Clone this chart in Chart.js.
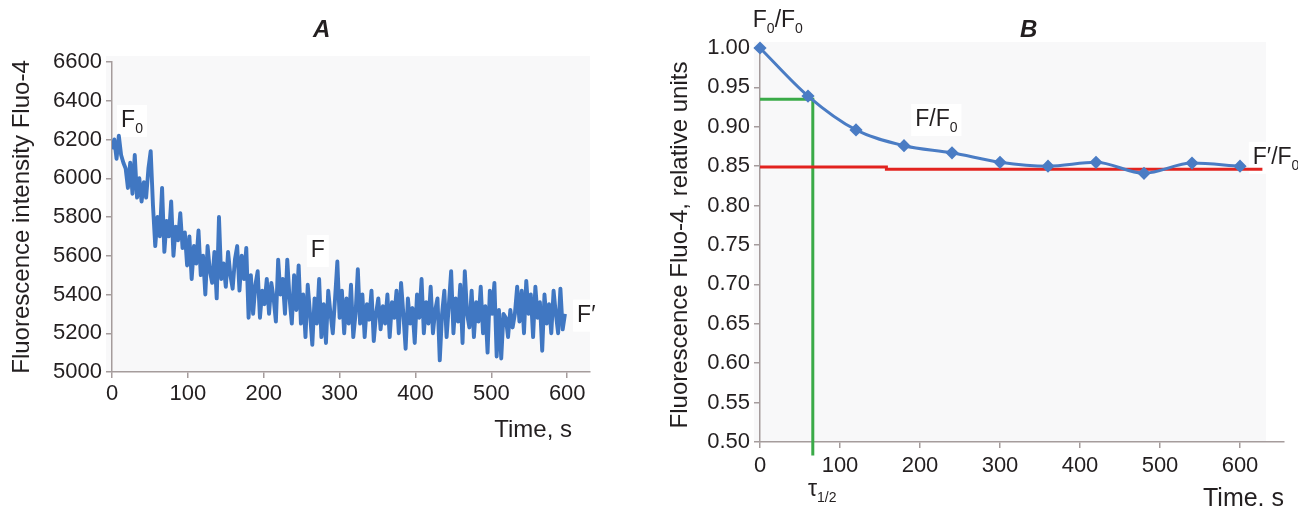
<!DOCTYPE html>
<html>
<head>
<meta charset="utf-8">
<script src="https://cdn.jsdelivr.net/npm/chart.js@4.4.1/dist/chart.umd.min.js"></script>
<style>
  html, body { margin: 0; padding: 0; background: #fff; }
  #wrapA { position: absolute; left: 0; top: 0; width: 650px; height: 509px; }
  #wrapB { position: absolute; left: 650px; top: 0; width: 648px; height: 509px; }
</style>
</head>
<body>
<div id="wrapA"><canvas id="chartA" width="650" height="509"></canvas></div>
<div id="wrapB"><canvas id="chartB" width="648" height="509"></canvas></div>
<script>
// PANEL A - raw Fluo-4 trace, one reading every 3 s
var sampleStepA = 3;
var intensityA = [
  6150, 6200, 6100, 6220, 6120, 6080, 6050, 5950, 6080, 5920,
  6120, 5900, 6000, 5880, 5980, 5900, 6050, 6140, 5860, 5650,
  5800, 5700, 5950, 5620, 5780, 5700, 5880, 5600, 5750, 5680,
  5820, 5640, 5720, 5550, 5700, 5480, 5650, 5560, 5730, 5500,
  5600, 5400, 5650, 5520, 5460, 5620, 5380, 5800, 5480, 5560,
  5440, 5620, 5500, 5430, 5580, 5650, 5420, 5600, 5480, 5640,
  5280, 5500, 5300, 5450, 5520, 5280, 5420, 5350, 5480, 5300,
  5460, 5380, 5260, 5580, 5400, 5480, 5300, 5580, 5380, 5250,
  5500, 5320, 5550, 5250, 5400, 5180, 5450, 5300, 5140, 5380,
  5250, 5480, 5180, 5350, 5150, 5420, 5300, 5200, 5380, 5570,
  5280, 5420, 5200, 5380, 5250, 5450, 5180, 5300, 5530, 5250,
  5400, 5180, 5350, 5270, 5420, 5160, 5300, 5380, 5220, 5340,
  5250, 5400, 5180, 5360, 5280, 5420, 5200, 5460, 5300, 5120,
  5380, 5250, 5330, 5150, 5400, 5280, 5480, 5200, 5360, 5250,
  5440, 5200, 5320, 5380, 5060, 5300, 5420, 5180, 5350, 5520,
  5200, 5380, 5260, 5450, 5150, 5520, 5300, 5230, 5420, 5180,
  5360, 5260, 5440, 5200, 5340, 5100, 5420, 5300, 5460, 5080,
  5320, 5070, 5300, 5280, 5180, 5320, 5230, 5300, 5440, 5260,
  5420, 5200, 5470, 5300, 5400, 5180, 5440, 5280, 5360, 5110,
  5400, 5250, 5350, 5200, 5420, 5300, 5200, 5430, 5220, 5300
];

// PANEL B - normalised fluorescence F/F0
var timeB = [0, 60, 120, 180, 240, 300, 360, 420, 480, 540, 600];
var ratioB = [1.00, 0.939, 0.896, 0.876, 0.867, 0.855, 0.850, 0.855, 0.841, 0.854, 0.850];
var plateauTimes = [0, 158, 158, 628];
var plateauLevels = [0.849, 0.849, 0.846, 0.846];
var halfLevel = 0.935;
var halfTime = 66;

var FONT = '"Liberation Sans", Arial, Helvetica, sans-serif';
var INK = '#231f20';
var AXIS = '#a59c9c';
var BLUE = '#4077c2';
var LABEL_SIZE = 23;

Chart.defaults.font.family = FONT;
Chart.defaults.color = INK;

// draw text with subscript pieces: parts = [[text, isSub], ...]
function drawParts(ctx, parts, x, y, size) {
  var cx = x;
  parts.forEach(function (p) {
    var fs = p[1] ? Math.round(size * 0.62) : size;
    ctx.font = fs + 'px ' + FONT;
    ctx.fillText(p[0], cx, p[1] ? y + size * 0.27 : y);
    cx += ctx.measureText(p[0]).width;
  });
}

function partsWidth(ctx, parts, size) {
  var w = 0;
  parts.forEach(function (p) {
    ctx.font = (p[1] ? Math.round(size * 0.62) : size) + 'px ' + FONT;
    w += ctx.measureText(p[0]).width;
  });
  return w;
}

// plot background, panel letter, x title and point labels
function panelPlugin(cfg) {
  return {
    id: 'panel' + cfg.letter,
    beforeDraw: function (chart) {
      var a = chart.chartArea, ctx = chart.ctx;
      ctx.save();
      ctx.fillStyle = '#f8f8f9';
      ctx.fillRect(a.left - 6, a.top - 6, a.right - a.left + 6 + cfg.bgRight, a.bottom - a.top + 6);
      ctx.restore();
    },
    beforeDatasetsDraw: function (chart) {
      var ctx = chart.ctx, sx = chart.scales.x, sy = chart.scales.y, a = chart.chartArea;
      ctx.save();
      ctx.fillStyle = INK;
      ctx.textBaseline = 'alphabetic';
      ctx.textAlign = 'left';
      ctx.font = 'italic bold 24px ' + FONT;
      ctx.fillText(cfg.letter, cfg.letterX, 37);
      ctx.font = cfg.xTitleSize + 'px ' + FONT;
      ctx.textAlign = 'right';
      ctx.fillText(cfg.xTitle, a.right + cfg.xTitleDx, cfg.xTitleY);
      ctx.textAlign = 'left';
      cfg.labels.forEach(function (l) {
        var px = sx.getPixelForValue(l.x), py = sy.getPixelForValue(l.y);
        if (l.box) {
          var w = partsWidth(ctx, l.parts, LABEL_SIZE);
          ctx.fillStyle = '#ffffff';
          ctx.fillRect(px - 4, py - 22, w + 8, 32);
          ctx.fillStyle = INK;
        }
        drawParts(ctx, l.parts, px, py, LABEL_SIZE);
      });
      ctx.restore();
    }
  };
}

function axisStyle(extra) {
  var base = {
    type: 'linear',
    grid: { drawOnChartArea: false, drawTicks: true, tickLength: 6, color: AXIS, lineWidth: 1.5 },
    border: { color: AXIS, width: 1.5 }
  };
  return Object.assign(base, extra);
}

// CHART A
new Chart(document.getElementById('chartA'), {
  type: 'line',
  data: {
    datasets: [{
      data: intensityA.map(function (v, i) { return { x: i * sampleStepA, y: v }; }),
      borderColor: BLUE,
      borderWidth: 3.9,
      borderJoinStyle: 'round',
      pointRadius: 0,
      tension: 0
    }]
  },
  options: {
    responsive: false,
    animation: false,
    layout: { padding: { top: 62, left: 6, right: 60, bottom: 69 } },
    plugins: { legend: { display: false }, tooltip: { enabled: false } },
    scales: {
      x: axisStyle({
        min: 0, max: 630,
        ticks: { stepSize: 100, font: { size: 22 }, color: INK, includeBounds: false, padding: 3, maxRotation: 0 },
        afterFit: function (s) { s.height = 68; }
      }),
      y: axisStyle({
        min: 5000, max: 6600,
        ticks: { stepSize: 200, font: { size: 22 }, color: INK, includeBounds: false, padding: 4,
          callback: function (v) { return String(v); } },
        title: { display: true, text: 'Fluorescence intensity Fluo-4', font: { size: 24 }, color: INK, padding: { top: 2, bottom: 4 } },
        afterFit: function (s) { s.width = 106; }
      })
    }
  },
  plugins: [panelPlugin({
    letter: 'A', letterX: 313, bgRight: 0,
    xTitle: 'Time, s', xTitleSize: 24, xTitleDx: -18, xTitleY: 437,
    labels: [
      { x: 12, y: 6265, parts: [['F', false], ['0', true]], box: true },
      { x: 262, y: 5594, parts: [['F', false]], box: true },
      { x: 613, y: 5260, parts: [['F\u2032', false]], box: true }
    ]
  })]
});

// CHART B
new Chart(document.getElementById('chartB'), {
  type: 'line',
  data: {
    datasets: [{
      data: timeB.map(function (t, i) { return { x: t, y: ratioB[i] }; }),
      borderColor: '#4a7cc4',
      backgroundColor: '#4a7cc4',
      borderWidth: 3,
      pointStyle: 'rectRot',
      pointRadius: 4.5,
      tension: 0.4,
      cubicInterpolationMode: 'monotone',
      clip: false
    }, {
      data: plateauTimes.map(function (t, i) { return { x: t, y: plateauLevels[i] }; }),
      borderColor: '#e2231f',
      borderWidth: 3,
      pointRadius: 0,
      tension: 0,
      clip: false
    }, {
      data: [{ x: 0, y: halfLevel }, { x: halfTime, y: halfLevel }, { x: halfTime, y: 0.483 }],
      borderColor: '#3aaa48',
      borderWidth: 3,
      pointRadius: 0,
      tension: 0,
      clip: false
    }]
  },
  options: {
    responsive: false,
    animation: false,
    layout: { padding: { top: 48, left: 14, right: 14, bottom: 0 } },
    plugins: { legend: { display: false }, tooltip: { enabled: false } },
    scales: {
      x: axisStyle({
        min: 0, max: 655,
        ticks: { stepSize: 100, font: { size: 22 }, color: INK, includeBounds: false, padding: 5, maxRotation: 0 },
        afterFit: function (s) { s.height = 67; }
      }),
      y: axisStyle({
        min: 0.5, max: 1.0,
        ticks: { stepSize: 0.05, font: { size: 22 }, color: INK, includeBounds: false, padding: 4,
          callback: function (v) { return v.toFixed(2); } },
        title: { display: true, text: 'Fluorescence Fluo-4, relative units', font: { size: 24 }, color: INK, padding: { top: 2, bottom: 4 } },
        afterFit: function (s) { s.width = 96; }
      })
    }
  },
  plugins: [panelPlugin({
    letter: 'B', letterX: 370, bgRight: -18,
    xTitle: 'Time. s', xTitleSize: 25, xTitleDx: 0, xTitleY: 506,
    labels: [
      { x: -9, y: 1.0265, parts: [['F', false], ['0', true], ['/F', false], ['0', true]], box: false },
      { x: 194, y: 0.901, parts: [['F/F', false], ['0', true]], box: true },
      { x: 616, y: 0.853, parts: [['F\u2032/F', false], ['0', true]], box: true },
      { x: 60, y: 0.432, parts: [['\u03c4', false], ['1/2', true]], box: false }
    ]
  })]
});
</script>
</body>
</html>
